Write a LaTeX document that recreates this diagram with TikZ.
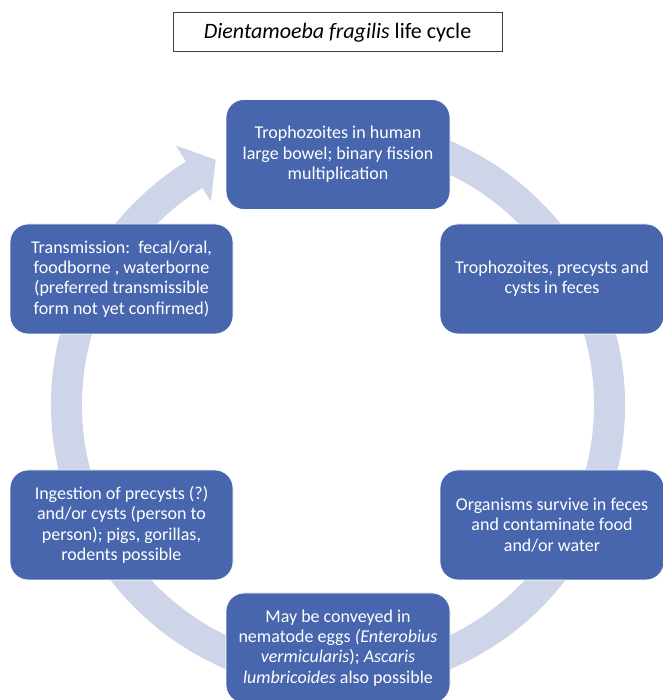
\documentclass[tikz,border=0pt]{standalone}
\usepackage{fontspec}
\setmainfont{Carlito}
\usepackage{xcolor}
\usepackage{tikz}
\usetikzlibrary{positioning}
\definecolor{stageblue}{RGB}{72,102,173}
\definecolor{ringgray}{RGB}{207,213,232}

\begin{document}
\begin{tikzpicture}[
				x=1pt, y=1pt,
				stage/.style={rectangle, fill=stageblue, draw=white, line width=0.8pt,
					rounded corners=18pt, minimum width=224pt, minimum height=110pt,
					text=white, align=center, font=\fontsize{18}{20.3}\selectfont},
				titlebox/.style={rectangle, draw=black!75, line width=1pt, fill=white,
					minimum width=329pt, minimum height=39pt, font=\fontsize{22}{26}\selectfont}
				]
				\useasboundingbox (0,0) rectangle (662,700);
				\begin{scope}[shift={(338,295)}]
					\fill[ringgray] (105:287) arc[start angle=105, end angle=-238, radius=287]
						-- (-238:306) -- (-243.5:274) -- (-238:240) -- (-238:256)
						arc[start angle=-238, end angle=105, radius=256] -- cycle;
				\end{scope}
				\node[titlebox] (title) at (337.5,667.5)
				{\textit{Dientamoeba fragilis} life cycle};
				\node[stage] (bowel) at (338,545.5)
				{Trophozoites in human\\large bowel; binary fission\\multiplication};
				\node[stage] (feces) at (552,421)
				{Trophozoites, precysts and\\cysts in feces};
				\node[stage] (survive) at (552,175)
				{Organisms survive in feces\\and contaminate food\\and/or water};
				\node[stage] (nematode) at (338,52)
				{May be conveyed in\\nematode eggs \textit{(Enterobius}\\\textit{vermicularis}); \textit{Ascaris}\\\textit{lumbricoides} also possible};
				\node[stage, minimum width=223pt] (ingest) at (121.5,175)
				{Ingestion of precysts (?)\\and/or cysts (person to\\person); pigs, gorillas,\\rodents possible};
				\node[stage, minimum width=223pt] (transmit) at (121.5,421)
				{Transmission:\ \ fecal/oral,\\foodborne , waterborne\\(preferred transmissible\\form not yet confirmed)};
			\end{tikzpicture}
\end{document}
